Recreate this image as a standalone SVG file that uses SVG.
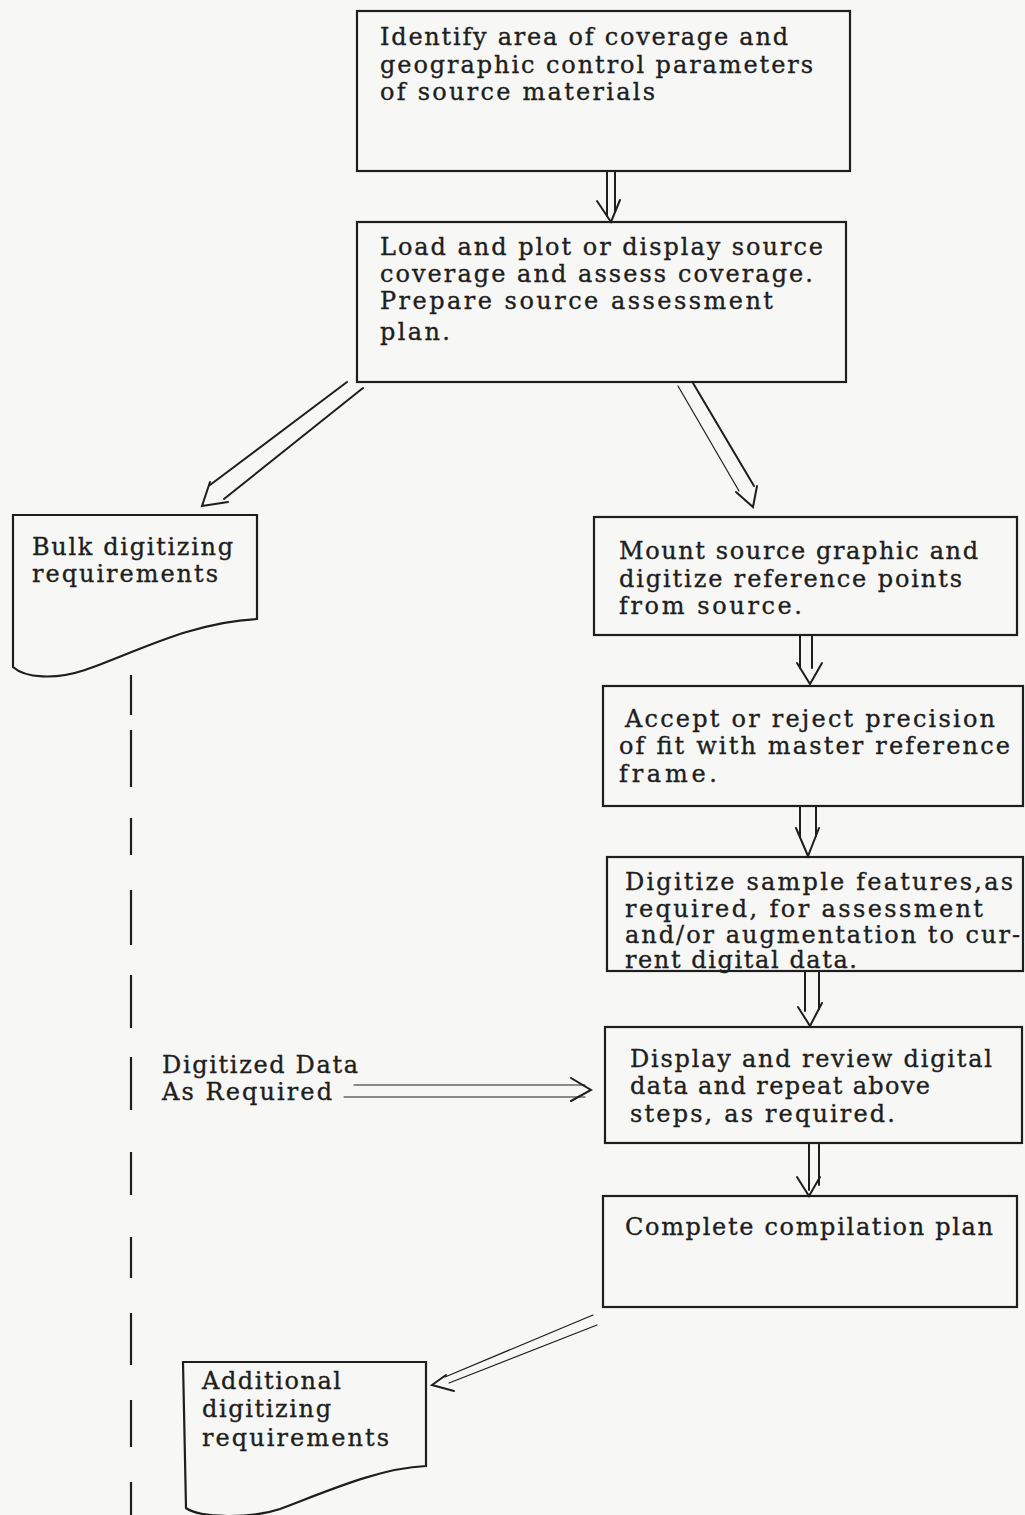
<svg xmlns="http://www.w3.org/2000/svg" width="1025" height="1515" viewBox="0 0 1025 1515">
<style>
.bg{fill:#f7f7f5}
.box{fill:none;stroke:#1e1e1e;stroke-width:2.2}
.t{font-family:"DejaVu Serif","Liberation Serif",serif;font-size:24px;fill:#1e1e1e;stroke:#1e1e1e;stroke-width:0.35}
.c{fill:none;stroke:#1e1e1e;stroke-width:2;stroke-linejoin:miter;stroke-linecap:round}
.thin{stroke-width:1.2}
.dash{fill:none;stroke:#1e1e1e;stroke-width:2.2}
</style>
<rect class="bg" x="0" y="0" width="1025" height="1515"/>

<g id="connectors">
  <!-- box1 -> box2 -->
  <path class="c" d="M607,171 L607,216 M615,171 L615,212"/>
  <polyline class="c" points="597,201 611,222 620,200"/>
  <!-- box2 -> bulk -->
  <path class="c" d="M347,382 L210,485 M363,388 L224,499"/>
  <polyline class="c" points="210,482 202,506 228,502"/>
  <!-- box2 -> mount -->
  <path class="c thin" d="M678,386 L739,491"/>
  <path class="c" d="M693,383 L754,486"/>
  <polyline class="c" points="736,492 753,507 757,486"/>
  <!-- mount -> accept -->
  <path class="c" d="M800,635 L800,668 M812,635 L812,668"/>
  <polyline class="c" points="797,663 810,684 822,663"/>
  <!-- accept -> digitize -->
  <path class="c" d="M800,806 L800,837 M816,806 L816,836"/>
  <polyline class="c" points="796,828 808,856 819,828"/>
  <!-- digitize -> display -->
  <path class="c" d="M805,971 L805,1011 M819,971 L819,1009"/>
  <polyline class="c" points="798,1007 810,1026 822,1003"/>
  <!-- display -> complete -->
  <path class="c" d="M809,1143 L809,1190 M819,1143 L819,1185"/>
  <polyline class="c" points="797,1177 809,1196 820,1177"/>
  <!-- digitized data -> display -->
  <path class="c thin" d="M354,1085 L585,1085 M344,1097 L585,1097"/>
  <polyline class="c" points="571,1078 591,1090 571,1101"/>
  <!-- complete -> additional -->
  <path class="c thin" d="M593,1315 L445,1377 M597,1325 L449,1383"/>
  <polyline class="c" points="446,1375 432,1385 454,1391"/>
  <!-- dashed vertical line -->
  <path class="dash" d="M131,675 L131,715 M131,730 L131,787 M131,818 L131,855 M131,890 L131,945 M131,975 L131,1028 M131,1057 L131,1110 M131,1152 L131,1195 M131,1237 L131,1278 M131,1313 L131,1365 M131,1400 L131,1447 M131,1482 L131,1515"/>
</g>

<g id="node-identify">
  <rect class="box" x="357" y="11" width="493" height="160"/>
  <text class="t" x="380" y="45" textLength="408" lengthAdjust="spacing">Identify area of coverage and</text>
  <text class="t" x="380" y="73" textLength="433" lengthAdjust="spacing">geographic control parameters</text>
  <text class="t" x="380" y="100" textLength="275" lengthAdjust="spacing">of source materials</text>
</g>

<g id="node-load">
  <rect class="box" x="357" y="222" width="489" height="160"/>
  <text class="t" x="380" y="255" textLength="443" lengthAdjust="spacing">Load and plot or display source</text>
  <text class="t" x="380" y="282" textLength="433" lengthAdjust="spacing">coverage and assess coverage.</text>
  <text class="t" x="380" y="309" textLength="393" lengthAdjust="spacing">Prepare source assessment</text>
  <text class="t" x="380" y="340" textLength="70" lengthAdjust="spacing">plan.</text>
</g>

<g id="node-bulk">
  <path class="box" d="M13,515 L257,515 L257,619 C190,622 130,655 85,670 C55,680 25,678 13,667 Z"/>
  <text class="t" x="32" y="555" textLength="201" lengthAdjust="spacing">Bulk digitizing</text>
  <text class="t" x="32" y="582" textLength="186" lengthAdjust="spacing">requirements</text>
</g>

<g id="node-mount">
  <rect class="box" x="594" y="517" width="423" height="118"/>
  <text class="t" x="619" y="559" textLength="359" lengthAdjust="spacing">Mount source graphic and</text>
  <text class="t" x="619" y="587" textLength="343" lengthAdjust="spacing">digitize reference points</text>
  <text class="t" x="619" y="614" textLength="183" lengthAdjust="spacing">from source.</text>
</g>

<g id="node-accept">
  <rect class="box" x="603" y="686" width="420" height="120"/>
  <text class="t" x="625" y="727" textLength="370" lengthAdjust="spacing">Accept or reject precision</text>
  <text class="t" x="619" y="754" textLength="391" lengthAdjust="spacing">of fit with master reference</text>
  <text class="t" x="619" y="782" textLength="98" lengthAdjust="spacing">frame.</text>
</g>

<g id="node-digitize">
  <rect class="box" x="607" y="857" width="416" height="114"/>
  <text class="t" x="625" y="890" textLength="388" lengthAdjust="spacing">Digitize sample features,as</text>
  <text class="t" x="625" y="917" textLength="358" lengthAdjust="spacing">required, for assessment</text>
  <text class="t" x="625" y="943" textLength="395" lengthAdjust="spacing">and/or augmentation to cur-</text>
  <text class="t" x="625" y="968" textLength="232" lengthAdjust="spacing">rent digital data.</text>
</g>

<g id="node-display">
  <rect class="box" x="605" y="1027" width="417" height="116"/>
  <text class="t" x="630" y="1067" textLength="362" lengthAdjust="spacing">Display and review digital</text>
  <text class="t" x="630" y="1094" textLength="300" lengthAdjust="spacing">data and repeat above</text>
  <text class="t" x="630" y="1122" textLength="265" lengthAdjust="spacing">steps, as required.</text>
</g>

<g id="node-complete">
  <rect class="box" x="603" y="1196" width="414" height="111"/>
  <text class="t" x="625" y="1235" textLength="368" lengthAdjust="spacing">Complete compilation plan</text>
</g>

<g id="label-digitized">
  <text class="t" x="162" y="1073" textLength="196" lengthAdjust="spacing">Digitized Data</text>
  <text class="t" x="162" y="1100" textLength="170" lengthAdjust="spacing">As Required</text>
</g>

<g id="node-additional">
  <path class="box" d="M183,1362 L426,1362 L426,1466 C380,1468 330,1490 280,1509 C250,1519 200,1518 186,1508 Z"/>
  <text class="t" x="202" y="1389" textLength="139" lengthAdjust="spacing">Additional</text>
  <text class="t" x="202" y="1417" textLength="129" lengthAdjust="spacing">digitizing</text>
  <text class="t" x="202" y="1446" textLength="187" lengthAdjust="spacing">requirements</text>
</g>
</svg>
